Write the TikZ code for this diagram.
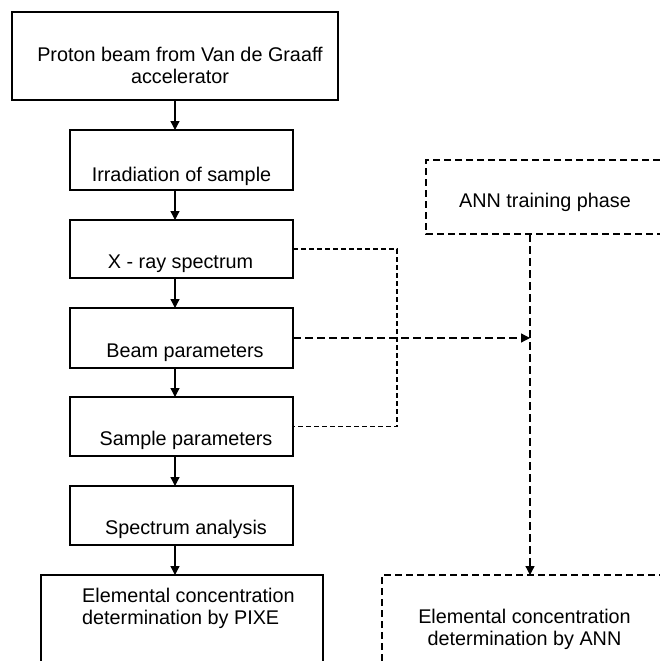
\documentclass[tikz,border=0pt]{standalone}
\usepackage{fontspec}
\setmainfont{Liberation Sans}
\usetikzlibrary{arrows.meta}
\begin{document}
\begin{tikzpicture}[x=1pt,y=-1pt,
  box/.style={draw, line width=1.3pt, inner sep=0pt, outer sep=0pt, anchor=north west},
  frame/.style={inner sep=0pt, outer sep=0pt, anchor=north west},
  lbl/.style={inner sep=0pt, anchor=base, font=\fontsize{19.8}{23}\selectfont},
  lbll/.style={inner sep=0pt, anchor=base west, font=\fontsize{19.8}{23}\selectfont},
  tip/.style={-{Triangle[length=9pt,width=9pt]}},
  arr/.style={line width=1.3pt, tip},
  sdash/.style={line width=1.2pt, dash pattern=on 5pt off 3pt},
  ldash/.style={line width=1.3pt, dash pattern=on 8pt off 4pt},
  bdash/.style={line width=1.3pt, dash pattern=on 7pt off 4pt}]
\useasboundingbox[fill=white] (0,0) rectangle (660,661);

% left column boxes
\node[box, minimum width=326pt, minimum height=88pt] (proton) at (12,12) {};
\node[lbl] (protont1) at (180,62) {Proton beam from Van de Graaff};
\node[lbl] (protont2) at (180,84) {accelerator};

\node[box, minimum width=223pt, minimum height=60pt] (irr) at (70,130) {};
\node[lbl] (irrt) at (181.5,181) {Irradiation of sample};

\node[box, minimum width=223pt, minimum height=58pt] (xray) at (70,220) {};
\node[lbl] (xrayt) at (180.5,268) {X - ray spectrum};

\node[box, minimum width=223pt, minimum height=60pt] (beam) at (70,308) {};
\node[lbl] (beamt) at (185,357) {Beam parameters};

\node[box, minimum width=223pt, minimum height=59pt] (sample) at (70,397) {};
\node[lbl] (samplet) at (186,445) {Sample parameters};

\node[box, minimum width=223pt, minimum height=59pt] (spec) at (70,486) {};
\node[lbl] (spect) at (186,534) {Spectrum analysis};

\node[frame, minimum width=282pt, minimum height=86pt] (pixe) at (41,575) {};
\draw[line width=1.3pt] (pixe.south west) -- (pixe.north west) -- (pixe.north east) -- (pixe.south east);
\node[lbll] (pixet1) at (82,602) {Elemental concentration};
\node[lbll] (pixet2) at (82,624) {determination by PIXE};

% right column
\node[frame, minimum width=234pt, minimum height=74pt] (train) at (426,160) {};
\draw[bdash] (train.north east) -- (train.north west) -- (train.south west) -- (train.south east);
\node[lbl] (traint) at (545,207) {ANN training phase};

\node[frame, minimum width=278pt, minimum height=86pt] (annout) at (382,575) {};
\draw[bdash] (annout.south west) -- (annout.north west) -- (annout.north east);
\node[lbl] (annoutt1) at (524.5,623) {Elemental concentration};
\node[lbl] (annoutt2) at (524.5,645) {determination by ANN};

% helper coordinates
\coordinate (fx) at (175,0);
\coordinate (vx) at (530,0);
\coordinate (jc) at (397,338);

% main flow arrows
\draw[arr] (proton.south -| fx) -- (irr.north -| fx);
\draw[arr] (irr.south -| fx) -- (xray.north -| fx);
\draw[arr] (xray.south -| fx) -- (beam.north -| fx);
\draw[arr] (beam.south -| fx) -- (sample.north -| fx);
\draw[arr] (sample.south -| fx) -- (spec.north -| fx);
\draw[arr] (spec.south -| fx) -- (pixe.north -| fx);

% dashed connectors
\draw[sdash] (xray.east) -| (jc) |- (sample.east);
\draw[ldash, tip] (beam.east) -- (beam.east -| vx);
\draw[ldash, tip] (train.south -| vx) -- (annout.north -| vx);
\end{tikzpicture}
\end{document}
